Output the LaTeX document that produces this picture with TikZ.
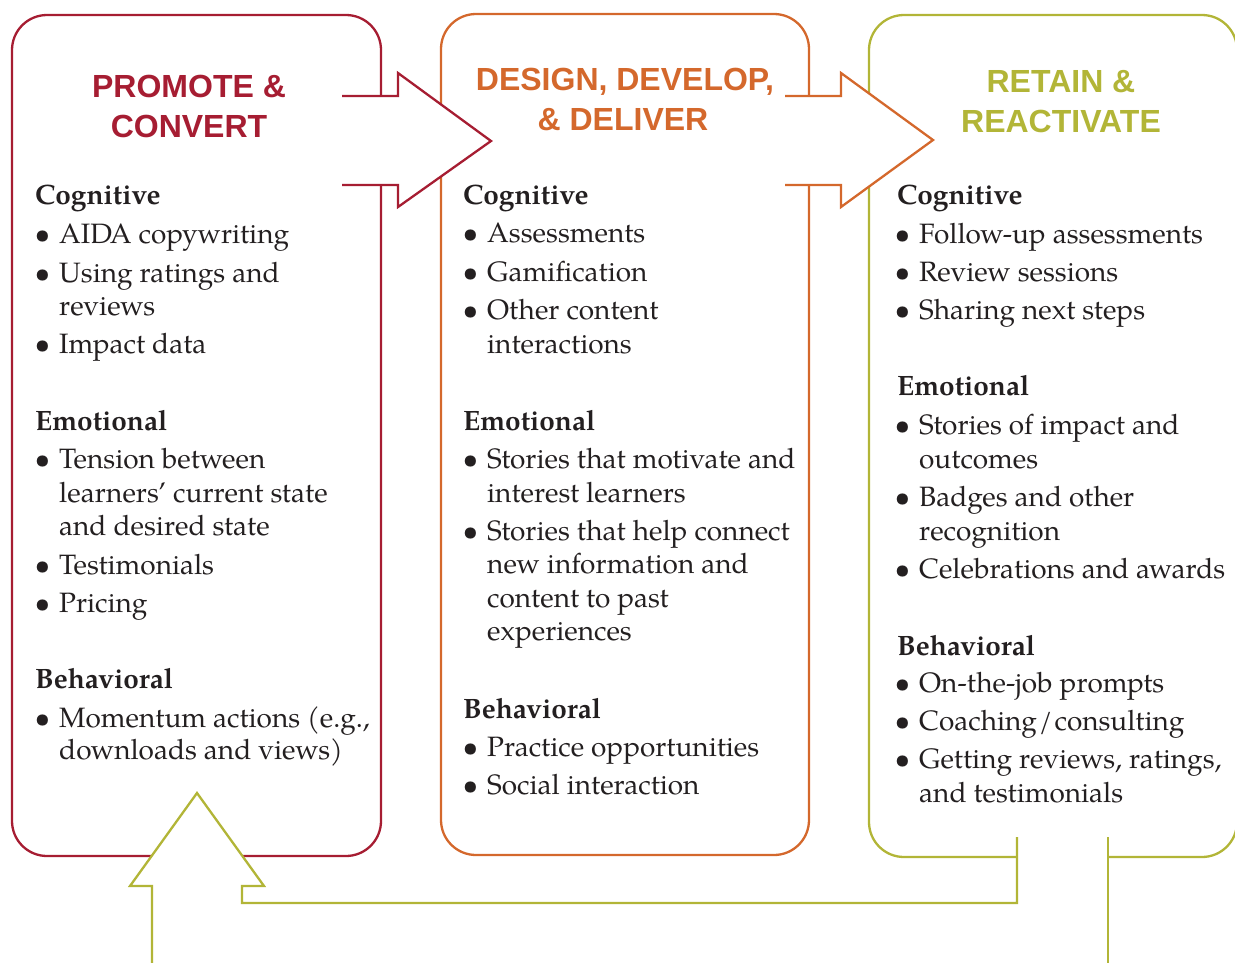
\documentclass[tikz,border=0pt]{standalone}
\usepackage{fontspec}
\setmainfont{TeX Gyre Pagella}
\newfontfamily\headfont{Liberation Sans}
\definecolor{redc}{RGB}{166,29,50}
\definecolor{orac}{RGB}{212,104,44}
\definecolor{olic}{RGB}{178,181,55}
\definecolor{ink}{RGB}{35,31,32}
\newcommand\secl[4]{\node[sec] (#1) at (#2,#3) {#4};}
\newcommand\bull[4]{\node[itm] (#1) at (#2,#3) {\llap{\textbullet\hspace{9pt}}#4};}
\newcommand\cont[4]{\node[itm] (#1) at (#2,#3) {#4};}
\begin{document}
\begin{tikzpicture}[x=1pt,y=-1pt,
  panel/.style={draw=#1, line width=2.3pt, rounded corners=35pt, inner sep=0pt, minimum width=368pt, minimum height=841pt},
  bigarrow/.style={draw=#1, line width=2.3pt},
  head/.style={anchor=base, inner sep=0pt, text=#1, font=\headfont\bfseries\fontsize{32}{40}\selectfont},
  sec/.style={anchor=base west, inner sep=0pt, text=ink, font=\bfseries\fontsize{28}{33}\selectfont},
  itm/.style={anchor=base west, inner sep=0pt, text=ink, font=\fontsize{28}{33}\selectfont}]
\useasboundingbox (0,0) rectangle (1235,962);
\clip (0,0) rectangle (1235,962);
% panels
\node[panel=redc, minimum width=369pt] (b1) at (196.5,435.5) {};
\node[panel=orac] (b2) at (625,434.5) {};
\node[panel=olic, minimum height=842pt] (b3) at (1053,436) {};
% arrow 1
\fill[white] (342,96) -- (398,96) -- (398,73) -- (491,141) -- (398,207) -- (398,185) -- (342,185) -- cycle;
\draw[bigarrow=redc] (342,96) -- (398,96) -- (398,73) -- (491,141) -- (398,207) -- (398,185) -- (342,185);
% arrow 2
\fill[white] (785,96) -- (841,96) -- (841,73) -- (933,140) -- (841,207) -- (841,185) -- (785,185) -- cycle;
\draw[bigarrow=orac] (785,96) -- (841,96) -- (841,73) -- (933,140) -- (841,207) -- (841,185) -- (785,185);
% return arrow
\fill[white] (1017,837) -- (1017,903) -- (242,903) -- (242,886) -- (264,886) -- (197,793) -- (130,886) -- (152,886) -- (152,975) -- (1108,975) -- (1108,837) -- cycle;
\draw[bigarrow=olic] (1017,837) -- (1017,903) -- (242,903) -- (242,886) -- (264,886) -- (197,793) -- (130,886) -- (152,886) -- (152,975);
\draw[bigarrow=olic] (1108,837) -- (1108,975);
% headings
\node[head=redc] (h1a) at (189,97) {PROMOTE \&};
\node[head=redc] (h1b) at (189,137) {CONVERT};
\node[head=orac] (h2a) at (625,90) {DESIGN, DEVELOP,};
\node[head=orac] (h2b) at (623,130) {\& DELIVER};
\node[head=olic] (h3a) at (1061,92) {RETAIN \&};
\node[head=olic] (h3b) at (1061,132) {REACTIVATE};
% box 1
\secl{p1}{35}{204}{Cognitive}
\bull{p2}{59}{243}{AIDA copywriting}
\bull{p3}{59}{282}{Using ratings and}
\cont{p4}{59}{315}{reviews}
\bull{p5}{59}{353}{Impact data}
\secl{p6}{35}{430}{Emotional}
\bull{p7}{59}{468}{Tension between}
\cont{p8}{59}{502}{learners’ current state}
\cont{p9}{59}{535}{and desired state}
\bull{p10}{59}{574}{Testimonials}
\bull{p11}{59}{612}{Pricing}
\secl{p12}{35}{688}{Behavioral}
\bull{p13}{59}{727}{Momentum actions (e.g.,}
\cont{p14}{59}{759}{downloads and views)}
% box 2
\secl{q1}{463}{204}{Cognitive}
\bull{q2}{487}{242}{Assessments}
\bull{q3}{487}{281}{Gamification}
\bull{q4}{487}{319}{Other content}
\cont{q5}{487}{353}{interactions}
\secl{q6}{463}{430}{Emotional}
\bull{q7}{487}{468}{Stories that motivate and}
\cont{q8}{487}{502}{interest learners}
\bull{q9}{487}{540}{Stories that help connect}
\cont{q10}{487}{573}{new information and}
\cont{q11}{487}{607}{content to past}
\cont{q12}{487}{640}{experiences}
\secl{q13}{463}{718}{Behavioral}
\bull{q14}{487}{756}{Practice opportunities}
\bull{q15}{487}{794}{Social interaction}
% box 3
\secl{r1}{897}{204}{Cognitive}
\bull{r2}{919}{243}{Follow-up assessments}
\bull{r3}{919}{281}{Review sessions}
\bull{r4}{919}{319}{Sharing next steps}
\secl{r5}{897}{395}{Emotional}
\bull{r6}{919}{434}{Stories of impact and}
\cont{r7}{919}{468}{outcomes}
\bull{r8}{919}{506}{Badges and other}
\cont{r9}{919}{540}{recognition}
\bull{r10}{919}{578}{Celebrations and awards}
\secl{r11}{897}{655}{Behavioral}
\bull{r12}{919}{692}{On-the-job prompts}
\bull{r13}{919}{730}{Coaching\kern2pt/\kern2pt consulting}
\bull{r14}{919}{768}{Getting reviews, ratings,}
\cont{r15}{919}{802}{and testimonials}
\end{tikzpicture}
\end{document}
